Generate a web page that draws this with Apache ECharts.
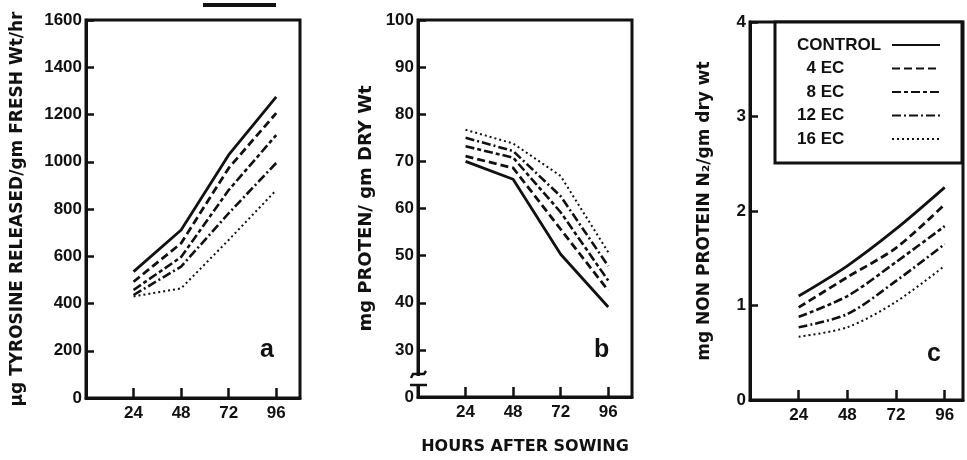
<!DOCTYPE html>
<html><head><meta charset="utf-8">
<script src="https://cdn.jsdelivr.net/npm/echarts@6/dist/echarts.min.js"></script>
<style>html,body{margin:0;padding:0;background:#fff}#c{width:967px;height:460px}</style>
</head><body><div id="c"></div>
<script>
const hours = [24, 48, 72, 96];
const xTickLabels = ['24', '48', '72', '96'];
const seriesNames = ['CONTROL', '4 EC', '8 EC', '12 EC', '16 EC'];

// Panel a: µg tyrosine released / gm fresh wt / hr
const tyrControl = [535, 711, 1029, 1275];
const tyr4EC = [492, 655, 973, 1206];
const tyr8EC = [457, 597, 880, 1113];
const tyr12EC = [436, 556, 782, 995];
const tyr16EC = [430, 464, 669, 880];

// Panel b: mg protein / gm dry wt
const protControl = [70.0, 66.2, 50.3, 39.1];
const prot4EC = [71.1, 68.6, 55.6, 42.6];
const prot8EC = [73.2, 70.8, 59.2, 44.7];
const prot12EC = [75.0, 72.2, 62.6, 47.8];
const prot16EC = [76.7, 73.8, 66.9, 50.7];

// Panel c: mg non protein N2 / gm dry wt
const npnControl = [1.10, 1.42, 1.81, 2.25];
const npn4EC = [0.98, 1.30, 1.61, 2.07];
const npn8EC = [0.88, 1.10, 1.46, 1.84];
const npn12EC = [0.77, 0.91, 1.26, 1.65];
const npn16EC = [0.67, 0.77, 1.04, 1.42];

const yTicksA = [0, 200, 400, 600, 800, 1000, 1200, 1400, 1600];
const yTicksB = [20, 30, 40, 50, 60, 70, 80, 90, 100];
const yTickLabelsB = ['0', '30', '40', '50', '60', '70', '80', '90', '100'];
const yTicksC = [0, 1, 2, 3, 4];

const panelA = [tyrControl, tyr4EC, tyr8EC, tyr12EC, tyr16EC];
const panelB = [protControl, prot4EC, prot8EC, prot12EC, prot16EC];
const panelC = [npnControl, npn4EC, npn8EC, npn12EC, npn16EC];

const INK = '#111';
const FONT = '"Liberation Sans", Arial, sans-serif';
const WIDE = '"DejaVu Sans", "Liberation Sans", sans-serif';
const lineStyles = [
  {type: 'solid', width: 2.8},
  {type: [8, 4], width: 2.8},
  {type: [9, 3, 4, 3], width: 2.6},
  {type: [9, 3, 2, 3], width: 2.6},
  {type: [2, 3], width: 2}
];

function xAxis(gi, extra) {
  return Object.assign({
    type: 'value', gridIndex: gi, min: 0, max: gi === 2 ? 105 : 108,
    splitLine: {show: false},
    axisLine: {show: true, onZero: false, lineStyle: {color: INK, width: 3}},
    axisTick: {show: true, inside: true, length: 10, customValues: hours, lineStyle: {color: INK, width: 2.5}},
    axisLabel: {show: true, customValues: hours, margin: 7, color: INK, fontFamily: FONT, fontWeight: 'bold', fontSize: 17,
      formatter: v => xTickLabels[hours.indexOf(v)] || ''}
  }, extra || {});
}
function yAxis(gi, min, max, ticks, fmt, name, gap, nameSize) {
  return {
    type: 'value', gridIndex: gi, min: min, max: max,
    name: name, nameLocation: 'middle', nameRotate: 90, nameGap: gap,
    nameTextStyle: {color: INK, fontFamily: WIDE, fontWeight: 'bold', fontSize: nameSize},
    splitLine: {show: false},
    axisLine: {show: true, lineStyle: {color: INK, width: 3}},
    axisTick: {show: true, inside: true, length: 8, customValues: ticks, lineStyle: {color: INK, width: 2.5}},
    axisLabel: {show: true, customValues: ticks, margin: 4, color: INK, fontFamily: FONT, fontWeight: 'bold', fontSize: 17, formatter: fmt}
  };
}

const series = [];
[panelA, panelB, panelC].forEach((panel, gi) => {
  panel.forEach((vals, si) => {
    series.push({
      name: seriesNames[si], type: 'line', xAxisIndex: gi, yAxisIndex: gi,
      data: hours.map((h, k) => [h, vals[k]]),
      symbol: 'none', smooth: gi === 2 ? 0.3 : false,
      lineStyle: Object.assign({color: INK}, lineStyles[si]),
      itemStyle: {color: INK}, silent: true
    });
  });
});

const grids = [
  {left: 86, top: 20, width: 214, height: 378},
  {left: 418, top: 20, width: 214, height: 378},
  {left: 750, top: 22, width: 213, height: 378}
].map(g => Object.assign(g, {show: true, borderColor: INK, borderWidth: 3, backgroundColor: 'transparent'}));

const chart = echarts.init(document.getElementById('c'), null, {renderer: 'canvas'});
chart.setOption({
  backgroundColor: '#fff',
  animation: false,
  grid: grids,
  xAxis: [
    xAxis(0),
    xAxis(1, {name: 'HOURS AFTER SOWING', nameLocation: 'middle', nameGap: 42,
      nameTextStyle: {color: INK, fontFamily: WIDE, fontWeight: 'bold', fontSize: 16}}),
    xAxis(2)
  ],
  yAxis: [
    yAxis(0, 0, 1600, yTicksA, v => String(v), 'µg TYROSINE RELEASED/gm FRESH Wt/hr', 60, 17),
    yAxis(1, 20, 100, yTicksB, v => yTickLabelsB[yTicksB.indexOf(v)] || '', 'mg PROTEN/ gm DRY Wt', 43, 18),
    yAxis(2, 0, 4, yTicksC, v => String(v), 'mg NON PROTEIN N₂/gm dry wt', 37, 17)
  ],
  legend: {
    show: true, orient: 'vertical', left: 775, top: 22,
    align: 'right', padding: [14, 21, 15, 22],
    itemWidth: 48, itemHeight: 14, itemGap: 5.5,
    backgroundColor: '#fff', borderColor: INK, borderWidth: 3,
    selectedMode: false,
    itemStyle: {color: 'rgba(0,0,0,0)', borderWidth: 0, opacity: 0},
    data: seriesNames,
    formatter: n => '{n|' + (n.length < 5 ? '\u2007' + n : n) + '}',
    textStyle: {
      color: INK, fontFamily: FONT, fontWeight: 'bold', fontSize: 17, lineHeight: 18,
      rich: {n: {width: 90, align: 'left', color: INK, fontFamily: FONT, fontWeight: 'bold', fontSize: 17, lineHeight: 18}}
    }
  },
  graphic: [
    {type: 'text', left: 260, top: 338, style: {text: 'a', font: 'bold 25px ' + FONT, fill: INK}},
    {type: 'text', left: 594, top: 338, style: {text: 'b', font: 'bold 25px ' + FONT, fill: INK}},
    {type: 'text', left: 927, top: 342, style: {text: 'c', font: 'bold 25px ' + FONT, fill: INK}},
    {type: 'rect', shape: {x: 203, y: 3, width: 73, height: 4}, style: {fill: INK}},
    {type: 'rect', shape: {x: 414, y: 376, width: 9, height: 8}, style: {fill: '#fff'}, z: 100},
    {type: 'polyline', shape: {points: [[411, 378], [413, 374], [424, 374], [426, 371]]}, style: {stroke: INK, lineWidth: 2.5, fill: 'none'}, z: 101},
    {type: 'line', shape: {x1: 410, y1: 385, x2: 427, y2: 385}, style: {stroke: INK, lineWidth: 2.5}, z: 101}
  ],
  series: series
});
</script></body></html>
